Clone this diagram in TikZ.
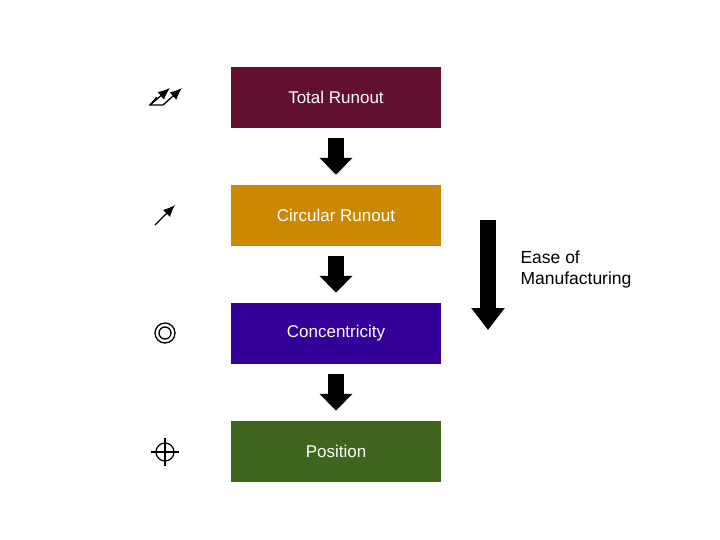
\documentclass[tikz,border=0pt]{standalone}
\usepackage{fontspec}
\setmainfont{Liberation Sans}
\usetikzlibrary{arrows.meta}
\definecolor{runoutT}{RGB}{99,15,47}
\definecolor{runoutC}{RGB}{204,136,0}
\definecolor{concen}{RGB}{51,0,153}
\definecolor{posit}{RGB}{63,102,31}
\tikzset{
	stage/.style={minimum width=210pt, minimum height=61pt, inner sep=0pt, text=white, font=\fontsize{17}{20}\selectfont},
	flow/.style={line width=16pt, -{Triangle[width=32pt,length=17pt]}, shorten <=10pt, shorten >=10pt},
	sym/.style={line width=1.3pt},
	tip/.style={-{Latex[length=12pt,width=10pt]}}
}
\begin{document}
\begin{tikzpicture}[x=1pt,y=-1pt]
	\useasboundingbox (0,0) rectangle (720,540);
	\node[stage, fill=runoutT] (t) at (336,97.5) {Total Runout};
	\node[stage, fill=runoutC] (c) at (336,215.5) {Circular Runout};
	\node[stage, fill=concen] (k) at (336,333.5) {Concentricity};
	\node[stage, fill=posit] (p) at (336,451.5) {Position};
	
	\draw[flow] (t) -- (c);
	\draw[flow] (c) -- (k);
	\draw[flow] (k) -- (p);
	
	\coordinate (e1) at (488,220);
	\coordinate (e2) at (488,330);
	\draw[line width=16pt, -{Triangle[width=32pt,length=22pt]}] (e1) -- (e2);
	\node[anchor=west, align=left, font=\fontsize{17.5}{21}\selectfont] (ease) at (517,269) {Ease of\\Manufacturing};
	
	% symbols
	\draw[sym] (157,97) -- (150,105) -- (163,105);
	\draw[sym, tip] (150,105) -- (170,88);
	\draw[sym, tip] (163,105) -- (182,88);
	\draw[sym, tip] (155,225) -- (175,205);
	\draw[sym] (165,333) circle (10) (165,333) circle (6);
	\draw[sym] (165,452) circle (9);
	\draw[sym] (151,452) -- (179,452) (165,438) -- (165,466);
\end{tikzpicture}
\end{document}
